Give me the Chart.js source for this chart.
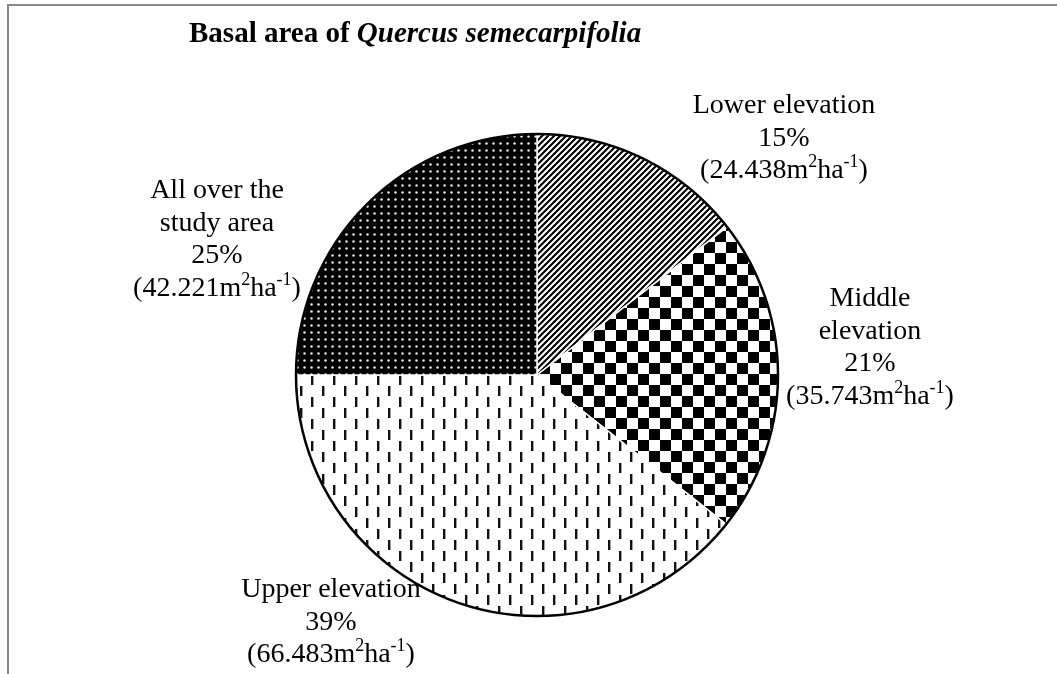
<!DOCTYPE html>
<html>
<head>
<meta charset="utf-8">
<script src="https://cdn.jsdelivr.net/npm/chart.js@4.4.1/dist/chart.umd.min.js"></script>
<style>
  html, body { margin: 0; padding: 0; background: #fff; overflow: hidden; }
  #frame { position: absolute; left: 7px; top: 4px; width: 1100px; height: 720px; border: 2px solid #8a8a8a; box-sizing: border-box; }
  #wrap { position: absolute; left: 0; top: 0; width: 1057px; height: 674px; }
</style>
</head>
<body>
<div id="frame"></div>
<div id="wrap"><canvas id="pie" width="1057" height="674"></canvas></div>
<script>
// basal area (m2/ha) per zone, clockwise from 12 o'clock
var categories = ['Lower elevation', 'Middle elevation', 'Upper elevation', 'All over the study area'];
var basalArea = [24.438, 35.743, 66.483, 42.221];
var percentLabels = ['15%', '21%', '39%', '25%'];
var nameLines = [['Lower elevation'], ['Middle', 'elevation'], ['Upper elevation'], ['All over the', 'study area']];

var canvas = document.getElementById('pie');
var ctx = canvas.getContext('2d');

function makePattern(size, draw) {
    var tile = document.createElement('canvas');
    tile.width = size;
    tile.height = size;
    var g = tile.getContext('2d');
    draw(g, size);
    return ctx.createPattern(tile, 'repeat');
}

// upward diagonal stripes
var stripes = makePattern(12, function (g, s) {
    g.fillStyle = '#fff';
    g.fillRect(0, 0, s, s);
    g.strokeStyle = '#000';
    g.lineWidth = 2.1;
    g.beginPath();
    for (var k = -2; k <= 2; k++) {
        g.moveTo(k * 6 - 2, s + 2);
        g.lineTo(k * 6 + s + 2, -2);
    }
    g.stroke();
});

// large checkerboard
var checker = makePattern(22, function (g, s) {
    g.fillStyle = '#fff';
    g.fillRect(0, 0, s, s);
    g.fillStyle = '#000';
    g.fillRect(0, 0, 11, 11);
    g.fillRect(11, 11, 11, 11);
});

// dashed vertical
var dashes = makePattern(22, function (g, s) {
    g.fillStyle = '#fff';
    g.fillRect(0, 0, s, s);
    g.fillStyle = '#111';
    g.fillRect(3, 1, 2.4, 10);
    g.fillRect(14, 12, 2.4, 10);
});

// dark with small white dots
var dots = makePattern(7, function (g, s) {
    g.fillStyle = '#000';
    g.fillRect(0, 0, s, s);
    g.fillStyle = '#e8e8e8';
    g.beginPath();
    g.arc(3.5, 3.5, 1.25, 0, Math.PI * 2);
    g.fill();
});

var baseFont = '28px "Liberation Serif"';
var supFont = '18px "Liberation Serif"';

// text with ^{...} pieces drawn as superscript, centred on x
function drawRich(c, text, x, y) {
    var parts = text.split(/(\^\{[^}]*\})/).filter(function (p) { return p.length; });
    var pieces = parts.map(function (p) {
        var sup = p.indexOf('^{') === 0;
        var t = sup ? p.slice(2, -1) : p;
        c.font = sup ? supFont : baseFont;
        return { t: t, sup: sup, w: c.measureText(t).width };
    });
    var total = pieces.reduce(function (a, p) { return a + p.w; }, 0);
    var px = x - total / 2;
    pieces.forEach(function (p) {
        c.font = p.sup ? supFont : baseFont;
        c.fillText(p.t, px, p.sup ? y - 11 : y);
        px += p.w;
    });
}

var pieText = {
    id: 'pieText',
    afterDatasetsDraw: function (chart, args, opts) {
        var c = chart.ctx;
        var arcs = chart.getDatasetMeta(0).data;
        var cx = arcs[0].x, cy = arcs[0].y, r = arcs[0].outerRadius;

        c.save();
        c.beginPath();
        c.arc(cx, cy, r, 0, Math.PI * 2);
        c.lineWidth = 2.5;
        c.strokeStyle = '#000';
        c.stroke();

        c.fillStyle = '#000';
        c.textAlign = 'left';
        c.textBaseline = 'alphabetic';
        basalArea.forEach(function (v, i) {
            var lines = nameLines[i].concat([percentLabels[i], '(' + v.toFixed(3) + 'm^{2}ha^{-1})']);
            var ax = cx + opts.anchors[i][0];
            var ay = cy + opts.anchors[i][1];
            lines.forEach(function (line, j) {
                drawRich(c, line, ax, ay + j * opts.lineHeight);
            });
        });

        // title, partly italic
        c.font = 'bold 29px "Liberation Serif"';
        var head = 'Basal area of ';
        c.fillText(head, opts.titleX, opts.titleY);
        var hw = c.measureText(head).width;
        c.font = 'italic bold 29px "Liberation Serif"';
        c.fillText('Quercus semecarpifolia', opts.titleX + hw, opts.titleY);
        c.restore();
    }
};

new Chart(ctx, {
    type: 'pie',
    data: {
        labels: categories,
        datasets: [{
            data: basalArea,
            backgroundColor: [stripes, checker, dashes, dots],
            borderColor: '#fff',
            borderWidth: 1.5,
            radius: 241
        }]
    },
    options: {
        responsive: false,
        animation: false,
        events: [],
        layout: { padding: { left: 17, right: 0, top: 76, bottom: 0 } },
        plugins: {
            legend: { display: false },
            tooltip: { enabled: false },
            pieText: {
                anchors: [[247, -262], [333, -69], [-206, 222], [-320, -177]],
                lineHeight: 32.5,
                titleX: 189,
                titleY: 42
            }
        }
    },
    plugins: [pieText]
});
</script>
</body>
</html>
